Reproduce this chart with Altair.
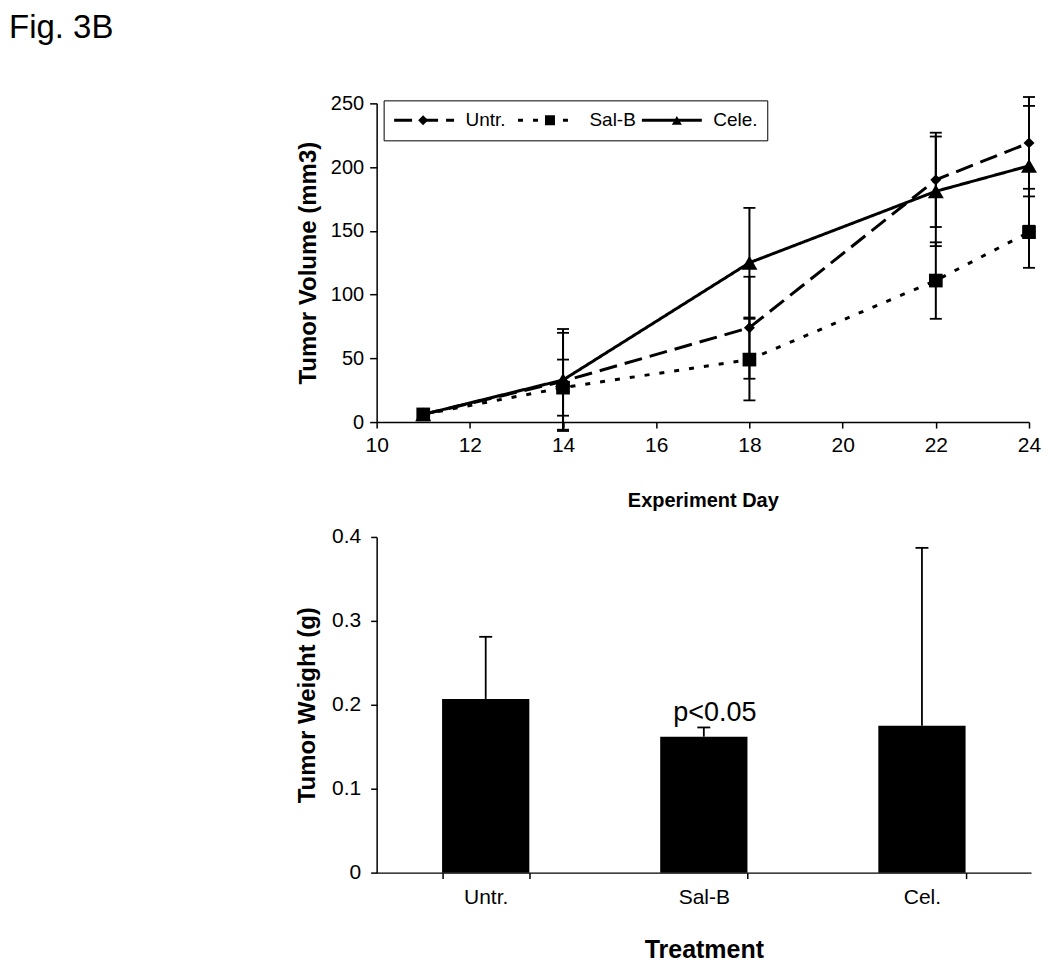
import altair as alt
import pandas as pd

# ---------------- data ----------------
days = [11, 14, 18, 22, 24]
series_names = ["Untr.", "Sal-B", "Cele."]
untr_vol = [6, 32, 74, 190, 219]
salb_vol = [6, 27, 49, 111, 149]
cele_vol = [6, 33, 125, 181, 201]
untr_err = [0, 38, 40, 37, 36]
salb_err = [0, 22, 32, 30, 28]
cele_err = [0, 40, 43, 43, 47]

treatments = ["Untr.", "Sal-B", "Cel."]
weights = [0.207, 0.162, 0.175]
weight_err = [0.074, 0.011, 0.212]
annotations = ["", "p<0.05", ""]

fig_label = ["Fig. 3B"]

# ---------------- tables ----------------
rows = []
for name, vals, errs in zip(series_names, [untr_vol, salb_vol, cele_vol],
                            [untr_err, salb_err, cele_err]):
    for d, v, e in zip(days, vals, errs):
        rows.append({"day": d, "series": name, "marker": name,
                     "vol": v, "lo": v - e, "hi": v + e})
vol_df = pd.DataFrame(rows)

bar_df = pd.DataFrame({
    "treatment": treatments,
    "weight": weights,
    "hi": [w + e for w, e in zip(weights, weight_err)],
    "label": annotations,
})
fig_df = pd.DataFrame({"label": fig_label})

NARROW = "Liberation Sans Narrow, Arial Narrow, Liberation Sans, Arial"
ARIAL = "Liberation Sans, Arial, Helvetica"

# ---------------- top: tumor volume ----------------
x_top = alt.X(
    "day:Q",
    scale=alt.Scale(domain=[10, 24], nice=False, zero=False),
    axis=alt.Axis(values=list(range(10, 25, 2)), title="Experiment Day", grid=False,
                  tickSize=6, labelFont=NARROW, labelFontSize=21, labelPadding=6,
                  labelFlush=False,
                  titleFont=ARIAL, titleFontSize=20, titleFontWeight="bold",
                  titlePadding=36),
)
y_top = alt.Y(
    "vol:Q",
    scale=alt.Scale(domain=[0, 250], nice=False),
    axis=alt.Axis(values=[0, 50, 100, 150, 200, 250], title="Tumor Volume (mm3)",
                  grid=False, tickSize=7, labelFont=NARROW, labelFontSize=20,
                  labelPadding=6, labelFlush=False, titleFont=ARIAL, titleFontSize=24,
                  titleFontWeight="bold", titlePadding=10),
)

base = alt.Chart(vol_df)

LEG_X, LEG_Y = 7, -3
legend_common = dict(
    title=None, orient="none", legendX=LEG_X, legendY=LEG_Y, direction="horizontal",
    padding=9, clipHeight=22, labelFont=ARIAL, labelFontSize=19,
)

# line samples + labels + box
lines = base.mark_line(color="black", strokeWidth=3).encode(
    x=x_top, y=y_top,
    strokeDash=alt.StrokeDash(
        "series:N", sort=series_names,
        scale=alt.Scale(range=[[18, 8], [5, 10], [1, 0]]),
        legend=alt.Legend(
            symbolType="stroke", symbolSize=3600, symbolStrokeWidth=3,
            symbolStrokeColor="black", symbolOffset=0, labelOffset=10,
            columnPadding=4, gridAlign="all",
            strokeColor="black", labelColor="black", **legend_common,
        ),
    ),
)

err_rules = base.mark_rule(color="black", strokeWidth=2).encode(
    x="day:Q", y="lo:Q", y2="hi:Q")
cap_lo = base.mark_point(shape="stroke", size=144, color="black", strokeWidth=1.8,
                         opacity=1).encode(x="day:Q", y="lo:Q")
cap_hi = base.mark_point(shape="stroke", size=144, color="black", strokeWidth=1.8,
                         opacity=1).encode(x="day:Q", y="hi:Q")

# markers (their legend overlays markers on the line samples)
points = base.mark_point(filled=True, color="black", opacity=1).encode(
    x="day:Q", y="vol:Q",
    shape=alt.Shape(
        "marker:N", sort=series_names,
        scale=alt.Scale(range=["diamond", "square", "triangle-up"]),
        legend=alt.Legend(
            symbolSize=100, symbolStrokeWidth=0, symbolFillColor="black",
            symbolOffset=21, labelOffset=0, labelExpr="''", columnPadding=87,
            gridAlign="all", labelColor="black", **legend_common,
        ),
    ),
    size=alt.Size("marker:N", sort=series_names,
                  scale=alt.Scale(range=[120, 256, 140]),
                  legend=None),
)

fig_text = alt.Chart(fig_df).mark_text(
    align="left", baseline="alphabetic", fontSize=33, font=ARIAL, color="black"
).encode(x=alt.value(-368), y=alt.value(-65), text="label:N")

top = alt.layer(lines, err_rules, cap_lo, cap_hi, points,
                fig_text).properties(width=653, height=319)

# ---------------- bottom: tumor weight ----------------
x_bot = alt.X(
    "treatment:N", sort=treatments,
    scale=alt.Scale(paddingInner=0.6, paddingOuter=0.3),
    axis=alt.Axis(title="Treatment", labelAngle=0, tickBand="extent", tickSize=6,
                  labelFont=ARIAL, labelFontSize=21, labelPadding=8,
                  titleFont=ARIAL, titleFontSize=25, titleFontWeight="bold",
                  titlePadding=30),
)
y_bot = alt.Y(
    "weight:Q",
    scale=alt.Scale(domain=[0, 0.4], nice=False),
    axis=alt.Axis(values=[0, 0.1, 0.2, 0.3, 0.4], format="~g", title="Tumor Weight (g)",
                  grid=False, tickSize=6, labelFont=ARIAL, labelFontSize=21,
                  labelPadding=10, titleFont=ARIAL, titleFontSize=24,
                  titleFontWeight="bold", titlePadding=12),
)

bbase = alt.Chart(bar_df)
bars = bbase.mark_bar(color="black").encode(x=x_bot, y=y_bot)
b_err = bbase.mark_rule(color="black", strokeWidth=1.8).encode(
    x=alt.X("treatment:N", sort=treatments), y="weight:Q", y2="hi:Q")
b_cap = bbase.mark_point(shape="stroke", size=169, color="black", strokeWidth=1.8,
                         opacity=1).encode(x=alt.X("treatment:N", sort=treatments), y="hi:Q")
b_text = bbase.mark_text(align="center", baseline="alphabetic", dx=11, dy=-6,
                         fontSize=27, font=ARIAL, color="black").encode(
    x=alt.X("treatment:N", sort=treatments), y="hi:Q", text="label:N")

bottom = alt.layer(bars, b_err, b_cap, b_text).properties(width=655, height=336)

chart = alt.vconcat(top, bottom, spacing=115, bounds="flush").properties(
    padding={"left": 0, "top": 3, "right": 0, "bottom": 0}, background="white"
).configure_view(stroke="transparent").configure_axis(
    domainColor="black", domainWidth=1.5, tickColor="black", tickWidth=1.5,
    labelColor="black", titleColor="black",
)

chart.save("out.html", embed_options={"renderer": "svg", "actions": False})
